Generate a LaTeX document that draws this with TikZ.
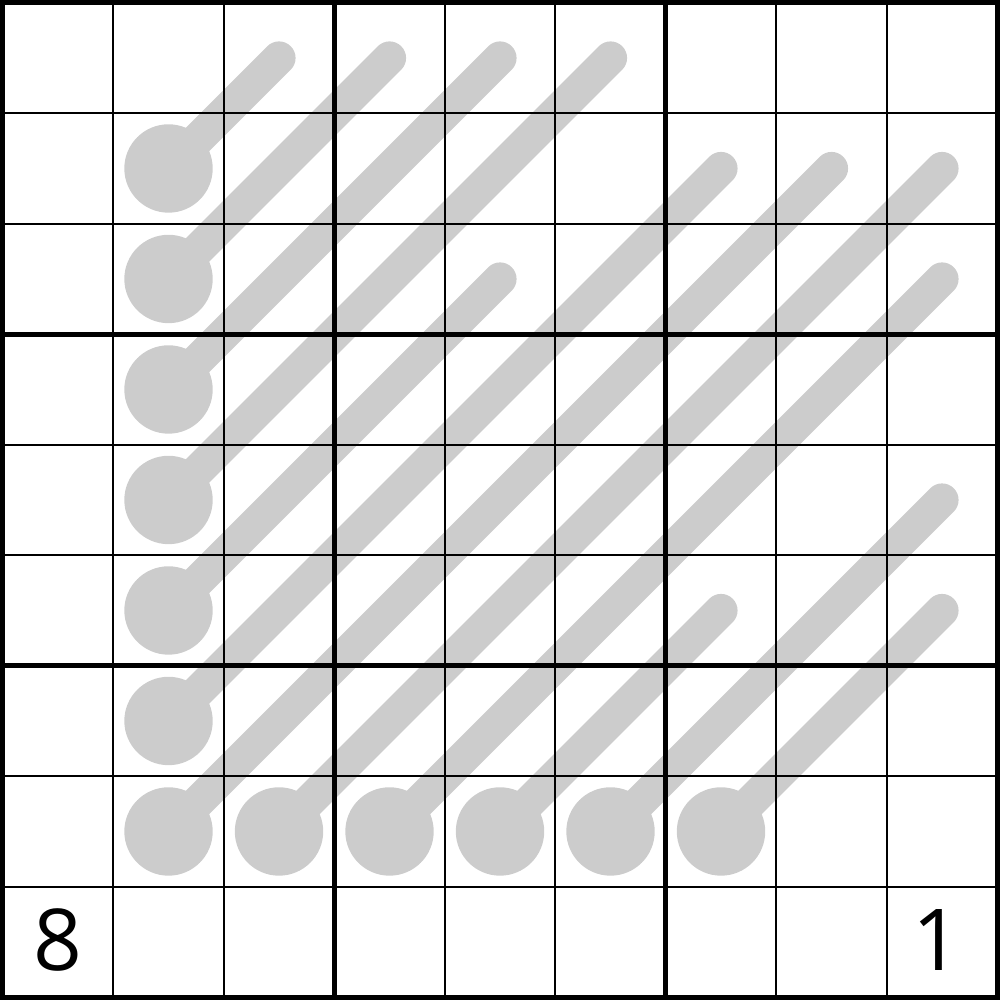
\documentclass[tikz,border=0pt]{standalone}
\usepackage{fontspec}
\setsansfont{Open Sans}
\usetikzlibrary{positioning}
\definecolor{thermogray}{HTML}{CCCCCC}
\tikzset{
  bulb/.style={circle, fill=thermogray, minimum size=0.8cm, inner sep=0pt},
  stem/.style={draw=thermogray, line width=0.3cm, line cap=round},
  cell line/.style={line width=0.5pt},
  box line/.style={line width=1.4pt},
  given/.style={font=\sffamily\fontsize{22}{26}\selectfont, inner sep=0pt}
}

\begin{document}
\begin{tikzpicture}
  \useasboundingbox (-0.025,-0.025) rectangle (9.025,9.025);
  % thermometers: bulb cell / tip cell (column, row from the top)
  \foreach \bc/\br/\tc/\tr [count=\i] in {2/2/3/1, 2/3/4/1, 2/4/5/1, 2/5/6/1, 2/6/5/3, 2/7/7/2,
      2/8/8/2, 3/8/9/2, 4/8/9/3, 5/8/7/6, 6/8/9/5, 7/8/9/6} {
    \coordinate (tip\i) at (\tc-0.5, 9.5-\tr);
    \node[bulb] (bulb\i) at (\bc-0.5, 9.5-\br) {};
    \draw[stem] (bulb\i.center) -- (tip\i);
  }
  % grid
  \foreach \k in {1,...,8}
    \draw[cell line] (\k,0) -- (\k,9) (0,\k) -- (9,\k);
  \foreach \k in {3,6}
    \draw[box line] (\k,0) -- (\k,9) (0,\k) -- (9,\k);
  \draw[box line] (0,0) rectangle (9,9);
  % givens
  \node[given] (given91) at (0.5,0.52) {8};
  \node[given] (given99) at (8.45,0.52) {1};
\end{tikzpicture}
\end{document}
